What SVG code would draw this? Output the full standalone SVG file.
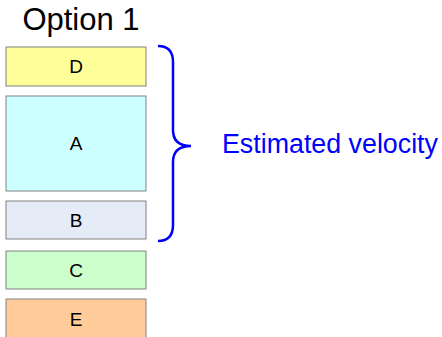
<svg xmlns="http://www.w3.org/2000/svg" width="442" height="337" viewBox="0 0 442 337">
<style>
.box{stroke:#808080;stroke-width:1}
text{font-family:'Liberation Sans',Arial,sans-serif}
</style>
<rect width="442" height="337" fill="#fff"/>
<text x="81" y="30" font-size="31" text-anchor="middle" fill="#000">Option 1</text>
<g id="D"><rect class="box" x="6" y="47" width="140" height="39" fill="#ffff99"/><text x="76" y="73" font-size="19" text-anchor="middle" fill="#000">D</text></g>
<g id="A"><rect class="box" x="6" y="96" width="140" height="95" fill="#ccffff"/><text x="76" y="149.5" font-size="19" text-anchor="middle" fill="#000">A</text></g>
<g id="B"><rect class="box" x="6" y="201" width="140" height="38" fill="#e6ecf7"/><text x="76" y="226.5" font-size="19" text-anchor="middle" fill="#000">B</text></g>
<g id="C"><rect class="box" x="6" y="251" width="140" height="38" fill="#ccffcc"/><text x="76" y="276.5" font-size="19" text-anchor="middle" fill="#000">C</text></g>
<g id="E"><rect class="box" x="6" y="299" width="140" height="40" fill="#ffcc99"/><text x="76" y="326" font-size="19" text-anchor="middle" fill="#000">E</text></g>
<g id="connectors">
<path d="M158,46 Q173,46 173,62 L173,130 Q173,146 191,146 Q173,146 173,162 L173,225 Q173,241 158,241" fill="none" stroke="#0000ff" stroke-width="2.5"/>
</g>
<text x="222" y="153" font-size="26.8" fill="#0000ff">Estimated velocity</text>
</svg>
